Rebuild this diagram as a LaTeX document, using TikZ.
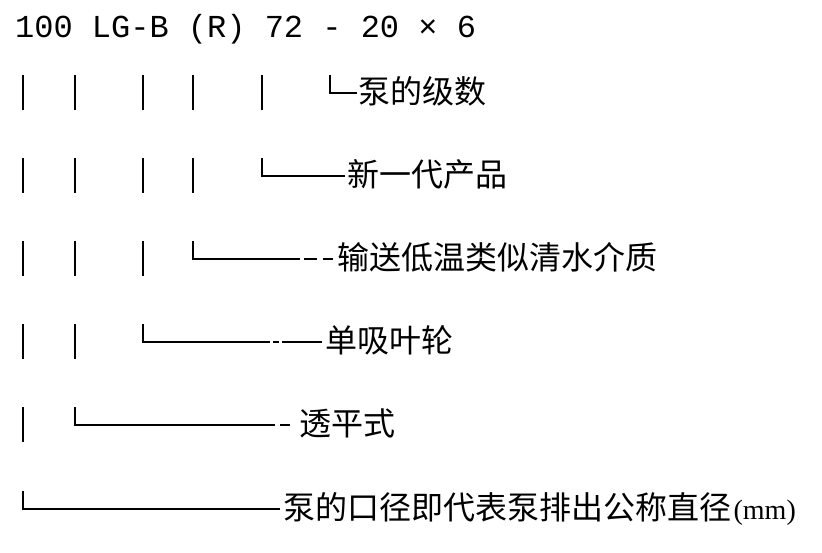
\documentclass[tikz,border=0pt]{standalone}
\usepackage{fontspec}
\setmainfont{Liberation Mono}
\newfontfamily\cjk{Noto Sans CJK SC}
\newfontfamily\serifmm{Liberation Serif}
\begin{document}
\begin{tikzpicture}[x=1pt,y=-1pt,
  bar/.style={line width=2.7pt, line join=miter, line cap=butt},
  lbl/.style={anchor=base west, inner sep=0pt, font=\cjk\fontsize{32}{32}\selectfont},
  codefont/.style={anchor=base west, inner sep=0pt, font=\fontsize{32}{32}\selectfont}]
\useasboundingbox (0,0) rectangle (822,552);
\fill[white] (0,0) rectangle (822,552);

% header
\node[codefont] (code) at (15,37) {100 LG-B (R) 72 - 20 × 6};

% row 1 (top 75)
\foreach \x in {23,75,143,193,262}{\draw[bar] (\x,75) -- (\x,110);}
\draw[bar] (330,75) -- (330,93) -- (357,93);
\node[lbl] (r1) at (358,103) {泵的级数};

% row 2 (top 158)
\foreach \x in {23,75,143,193}{\draw[bar] (\x,158) -- (\x,193);}
\draw[bar] (262,158) -- (262,176) -- (345,176);
\node[lbl] (r2) at (347,186) {新一代产品};

% row 3 (top 241)
\foreach \x in {23,75,143}{\draw[bar] (\x,241) -- (\x,276);}
\draw[bar] (193,241) -- (193,259) -- (300,259);
\draw[bar] (304,259) -- (317,259);
\draw[bar] (323,259) -- (333,259);
\node[lbl] (r3) at (337,269) {输送低温类似清水介质};

% row 4 (top 324)
\foreach \x in {23,75}{\draw[bar] (\x,324) -- (\x,359);}
\draw[bar] (143,324) -- (143,342) -- (270,342);
\draw[bar] (273,342) -- (279,342);
\draw[bar] (282,342) -- (322,342);
\node[lbl] (r4) at (325,352) {单吸叶轮};

% row 5 (top 407)
\draw[bar] (23,407) -- (23,442);
\draw[bar] (75,407) -- (75,425) -- (275,425);
\draw[bar] (280,425) -- (290,425);
\node[lbl] (r5) at (299,435) {透平式};

% row 6 (top 491)
\draw[bar] (23,491) -- (23,509) -- (280,509);
\node[lbl] (r6) at (283,519) {泵的口径即代表泵排出公称直径};
\node[anchor=base west, inner sep=0pt, font=\serifmm\fontsize{28}{28}\selectfont] (mm) at ([xshift=2pt]r6.base east) {(mm)};
\end{tikzpicture}
\end{document}
